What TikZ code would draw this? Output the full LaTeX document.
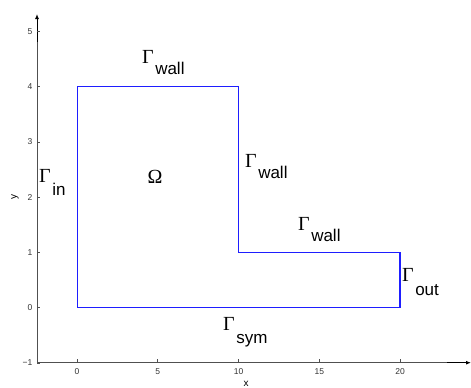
\documentclass[tikz,border=0pt]{standalone}
\usepackage{fontspec}
\setmainfont{Liberation Sans}
\newfontfamily\gfont{Liberation Serif}
\usetikzlibrary{arrows.meta}
\newcommand\glab[2]{{\gfont\fontsize{20}{20}\selectfont Γ}\kern1.5pt\raisebox{-#2pt}{\fontsize{17}{17}\selectfont #1}}
\definecolor{axisgray}{RGB}{80,80,80}
\definecolor{domblue}{RGB}{30,30,255}
\begin{document}
\begin{tikzpicture}[x=1pt,y=-1pt,
  axisline/.style={draw=axisgray,line width=1pt},
  tickline/.style={draw=axisgray,line width=0.9pt},
  ticklab/.style={inner sep=0pt,text=black!80,font=\fontsize{8.5}{10}\selectfont},
  bclab/.style={anchor=base west,inner sep=0pt},
  domline/.style={draw=domblue,line width=1.1pt,line join=miter}]
\useasboundingbox (0,0) rectangle (471,388);
% axes
\coordinate (O) at (37,362.7);
\coordinate (XE) at (471,362.7);
\coordinate (YE) at (37,14);
\coordinate (XB) at (447,362.7);
\coordinate (YB) at (37,42);
\draw[axisline] (O) -- (XB);
\draw[axisline] (O) -- (YB);
\draw[line width=1pt,-{Latex[length=5pt,width=4pt]}] (XB) -- (XE);
\draw[line width=1pt,-{Latex[length=5pt,width=4pt]}] (YB) -- (YE);
% y ticks
\foreach \k/\t in {-1/−1,0/0,1/1,2/2,3/3,4/4,5/5}{
  \draw[tickline] (37,307.7-55.25*\k) -- (40,307.7-55.25*\k);
  \node[ticklab,anchor=east] (yt\k) at (32.5,307.7-55.25*\k) {\t};
}
% x ticks
\foreach \k in {0,5,10,15,20}{
  \draw[tickline] (77+16.15*\k,362.7) -- (77+16.15*\k,359.2);
  \node[ticklab,anchor=north] (xt\k) at (77+16.15*\k,368.7) {\k};
}
\node[inner sep=0pt,anchor=base,font=\fontsize{10}{12}\selectfont] (xl) at (246,386.5) {x};
\node[inner sep=0pt,rotate=90,font=\fontsize{10}{12}\selectfont] (yl) at (15,197) {y};
% domain
\coordinate (A) at (77.3,307.6);
\coordinate (B) at (77.3,86.7);
\coordinate (C) at (238.5,86.7);
\coordinate (D) at (238.5,252.3);
\coordinate (E) at (400,252.3);
\coordinate (F) at (400,307.6);
\draw[domline] (B) -- (C) -- (D) -- (E) -- (F) -- (A) -- (B) -- (C);
% labels
\node[bclab] (gw1) at (142,63.3) {\glab{wall}{11}};
\node[bclab] (gin) at (39,182.5) {\glab{in}{12.5}};
\node[bclab] (gw2) at (245,167.7) {\glab{wall}{11}};
\node[bclab] (gw3) at (298,230) {\glab{wall}{11}};
\node[bclab] (gout) at (402,281) {\glab{out}{14}};
\node[bclab] (gsym) at (223,330) {\glab{sym}{13}};
\node[anchor=base,inner sep=0pt] (om) at (155,183.3) {\gfont\fontsize{20}{20}\selectfont Ω};
\end{tikzpicture}
\end{document}
